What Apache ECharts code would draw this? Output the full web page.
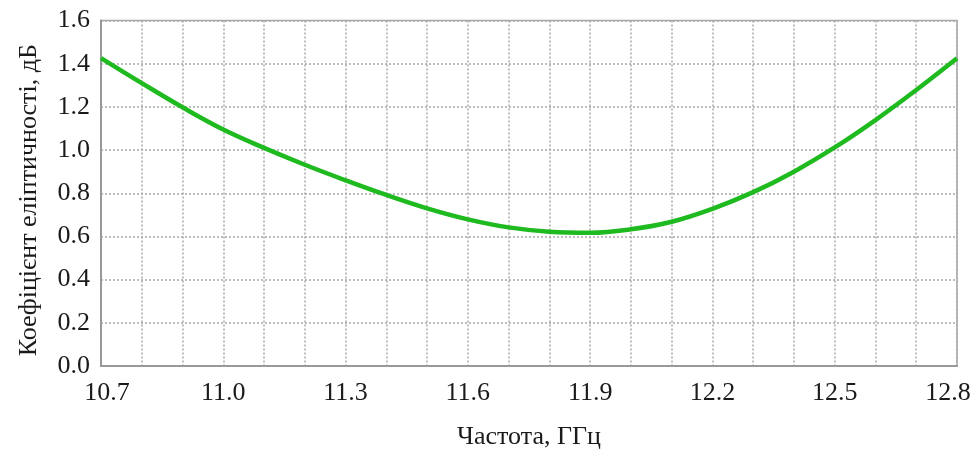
<!DOCTYPE html>
<html>
<head>
<meta charset="utf-8">
<script src="https://cdn.jsdelivr.net/npm/echarts@6/dist/echarts.min.js"></script>
<style>
  html, body { margin: 0; padding: 0; background: #fff; }
  #chart { width: 975px; height: 449px; }
</style>
</head>
<body>
<div id="chart"></div>
<script>
// Frequency, GHz
const freq = [10.7, 10.8, 10.9, 11.0, 11.1, 11.2, 11.3, 11.4, 11.5, 11.6, 11.7,
              11.8, 11.9, 12.0, 12.1, 12.2, 12.3, 12.4, 12.5, 12.6, 12.7, 12.8];
// Axial ratio, dB
const axialRatio = [1.426, 1.310, 1.198, 1.095, 1.010, 0.932, 0.860, 0.792, 0.730, 0.679, 0.642,
                    0.622, 0.617, 0.633, 0.668, 0.728, 0.805, 0.900, 1.012, 1.139, 1.278, 1.425];
// Tick labels shown on the axes
const xTickLabels = ['10.7', '11.0', '11.3', '11.6', '11.9', '12.2', '12.5', '12.8'];
const yTickLabels = ['0.0', '0.2', '0.4', '0.6', '0.8', '1.0', '1.2', '1.4', '1.6'];

const serif = '"Liberation Serif", "DejaVu Serif", serif';
const textColor = '#1a1a1a';
const tickFont = 26;
const nameFont = 26;
const gridLine = { color: '#a8a8a8', width: 1.5, type: [2, 2] };

const chart = echarts.init(document.getElementById('chart'));
chart.setOption({
  animation: false,
  backgroundColor: '#fff',
  grid: {
    left: 101, right: 18, top: 20.5, bottom: 83,
    containLabel: false,
    outerBoundsMode: 'none',
    show: true, borderColor: '#a8a8a8', borderWidth: 1.5
  },
  xAxis: {
    type: 'value',
    min: 10.7, max: 12.8, interval: 0.1,
    name: 'Частота, ГГц',
    nameLocation: 'middle',
    nameGap: 58,
    nameTextStyle: { fontFamily: serif, fontSize: nameFont, color: textColor },
    axisLine: { show: true, lineStyle: { color: '#999', width: 2 } },
    axisTick: { show: false },
    splitLine: { show: true, lineStyle: gridLine },
    axisLabel: {
      margin: 14,
      fontFamily: serif, fontSize: tickFont, color: textColor,
      showMinLabel: true, showMaxLabel: true,
      formatter: function (v) {
        const s = v.toFixed(1);
        if (xTickLabels.indexOf(s) < 0) return '';
        if (s === xTickLabels[0]) return '{first|' + s + '}';
        if (s === xTickLabels[xTickLabels.length - 1]) return '{last|' + s + '}';
        return s;
      },
      rich: {
        first: { fontFamily: serif, fontSize: tickFont, color: textColor, padding: [0, 0, 0, 12] },
        last: { fontFamily: serif, fontSize: tickFont, color: textColor, padding: [0, 18, 0, 0] }
      }
    }
  },
  yAxis: {
    type: 'value',
    min: 0, max: 1.6, interval: 0.2,
    name: 'Коефіцієнт еліптичності, дБ',
    nameLocation: 'middle',
    nameGap: 59,
    nameTextStyle: { fontFamily: serif, fontSize: nameFont, color: textColor, padding: [0, 14, 0, 0] },
    axisLine: { show: true, lineStyle: { color: '#999', width: 2 } },
    axisTick: { show: false },
    splitLine: { show: true, lineStyle: gridLine },
    axisLabel: {
      margin: 11,
      fontFamily: serif, fontSize: tickFont, color: textColor,
      formatter: function (v) {
        const s = v.toFixed(1);
        return yTickLabels.indexOf(s) >= 0 ? s : '';
      }
    }
  },
  series: [{
    type: 'line',
    data: freq.map((f, i) => [f, axialRatio[i]]),
    smooth: 0.4,
    showSymbol: false,
    lineStyle: { color: '#1fba1f', width: 4.5 }
  }]
});
</script>
</body>
</html>
